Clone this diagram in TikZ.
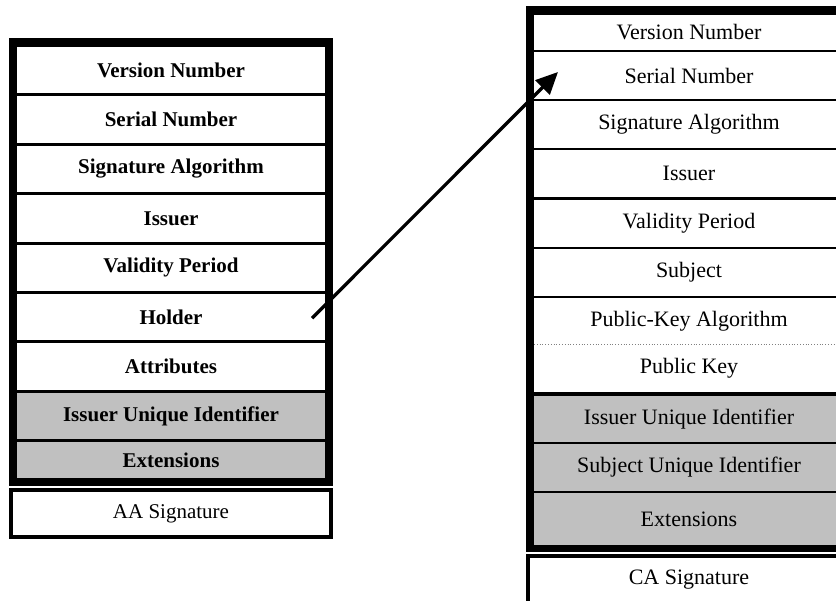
\documentclass[tikz,border=0pt]{standalone}
\usepackage{fontspec}
\setmainfont{Liberation Serif}
\usetikzlibrary{calc}
\usetikzlibrary{positioning}
\usetikzlibrary{arrows.meta}
\usepackage{xcolor}
\definecolor{fieldGrey}{RGB}{192,192,192}

\begin{document}
\begin{tikzpicture}[x=1pt, y=-1pt,
        lrow/.style={anchor=north west, inner sep=0, outer sep=0, minimum width=308, minimum height=46.4,
            fill=white, font=\fontsize{21}{24}\selectfont\bfseries},
        rrow/.style={anchor=north west, inner sep=0, outer sep=0, minimum width=310, minimum height=47,
            fill=white, font=\fontsize{22}{25}\selectfont},
        sigbox/.style={anchor=north west, inner sep=0, outer sep=0, draw, line width=4pt, fill=white}]
        \path [use as bounding box] (0,0) rectangle (836,601);
        \clip (0,0) rectangle (836,601);
        % attribute certificate
        \fill (9,38) rectangle (333,486);
        \foreach \name/\txt [count=\i from 0] in {lversion/Version Number, lserial/Serial Number,
                lsigalg/Signature Algorithm, lissuer/Issuer, lvalidity/Validity Period,
                lholder/Holder, lattr/Attributes} {
            \node [lrow] (\name) at (17,{47+49.4*\i}) {\txt};
        };
        \node [lrow, fill=fieldGrey] (lissuid) at (17,392.8) {Issuer Unique Identifier};
        \node [lrow, fill=fieldGrey, minimum height=35.8] (lext) at (17,442.2) {Extensions};
        \node [sigbox, minimum width=320, minimum height=47, font=\fontsize{21}{24}\selectfont]
            (aasig) at (11,490) {AA Signature};
        % public key certificate
        \fill (526,6) rectangle (852,552);
        \node [rrow, minimum height=35] (rversion) at (534,15) {Version Number};
        \foreach \name/\txt [count=\i from 0] in {rserial/Serial Number, rsigalg/Signature Algorithm,
                rissuer/Issuer, rvalidity/Validity Period, rsubject/Subject} {
            \node [rrow] (\name) at (534,{52+49.2*\i}) {\txt};
        };
        \node [rrow, minimum height=46] (rpkalg) at (534,298) {Public-Key Algorithm};
        \node [rrow, minimum height=48] (rpubkey) at (534,344) {Public Key};
        \draw [dotted, line width=0.8pt, color=gray] (rpkalg.south west) -- (rpkalg.south east);
        \node [rrow, fill=fieldGrey, minimum height=46] (rissuid) at (534,396) {Issuer Unique Identifier};
        \node [rrow, fill=fieldGrey] (rsubjuid) at (534,444) {Subject Unique Identifier};
        \node [rrow, fill=fieldGrey, minimum height=52] (rext) at (534,493) {Extensions};
        \node [sigbox, minimum width=322, minimum height=48, font=\fontsize{22}{25}\selectfont]
            (casig) at (528,556) {CA Signature};
        % holder points to the serial number
        \draw [line width=3.3pt, -{Triangle[length=22pt, width=20pt]}]
            ($(lholder.east)+(-13,1)$) -- ($(rserial.west)+(24,-3.5)$);
    \end{tikzpicture}
\end{document}
